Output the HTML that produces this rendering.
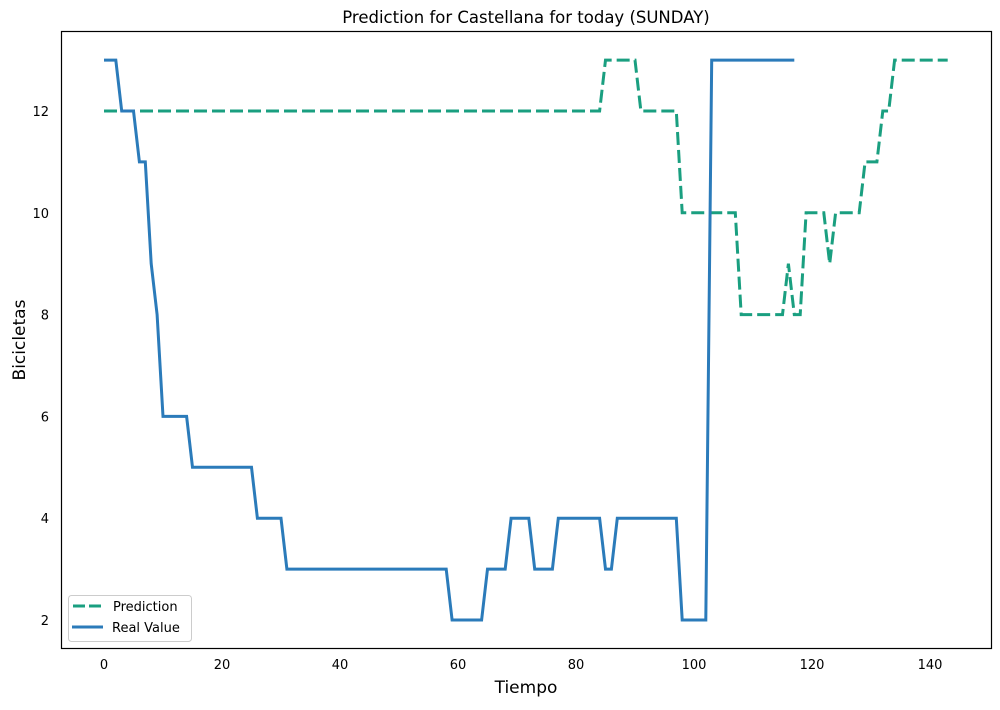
<!DOCTYPE html>
<html><head><meta charset="utf-8"><style>
body{margin:0;background:#fff;}
svg{font-family:"DejaVu Sans","Liberation Sans",sans-serif;}
</style></head><body>
<svg id="chart" width="1000" height="705">
<rect x="0" y="0" width="1000" height="705" fill="#fff"/>
<text x="526" y="23" text-anchor="middle" font-size="16.5">Prediction for Castellana for today (SUNDAY)</text>
<g id="plot"></g>
<rect x="61.5" y="31.5" width="930" height="617" fill="none" stroke="#000" stroke-width="1.2"/>
<text x="526" y="693" text-anchor="middle" font-size="17">Tiempo</text>
<text x="25" y="340" text-anchor="middle" font-size="17" transform="rotate(-90 25 340)">Bicicletas</text>
<g>
<rect x="68.5" y="595.5" width="123" height="46" rx="3" fill="#fff" stroke="#ccc"/>
<line x1="73" y1="606" x2="103" y2="606" stroke="#1a9f80" stroke-width="3" stroke-dasharray="12,4"/>
<text x="113" y="611" font-size="13">Prediction</text>
<line x1="72" y1="627" x2="103" y2="627" stroke="#2b7bba" stroke-width="3"/>
<text x="112" y="632" font-size="13">Real Value</text>
</g>
</svg>
<script>
const xTicks=[0,20,40,60,80,100,120,140];
const yTicks=[2,4,6,8,10,12];
const realValues=[13,13,13,12,12,12,11,11,9,8,6,6,6,6,6,5,5,5,5,5,5,5,5,5,5,5,4,4,4,4,4,3,3,3,3,3,3,3,3,3,3,3,3,3,3,3,3,3,3,3,3,3,3,3,3,3,3,3,3,2,2,2,2,2,2,3,3,3,3,4,4,4,4,3,3,3,3,4,4,4,4,4,4,4,4,3,3,4,4,4,4,4,4,4,4,4,4,4,2,2,2,2,2,13,13,13,13,13,13,13,13,13,13,13,13,13,13,13];
const predValues=[12,12,12,12,12,12,12,12,12,12,12,12,12,12,12,12,12,12,12,12,12,12,12,12,12,12,12,12,12,12,12,12,12,12,12,12,12,12,12,12,12,12,12,12,12,12,12,12,12,12,12,12,12,12,12,12,12,12,12,12,12,12,12,12,12,12,12,12,12,12,12,12,12,12,12,12,12,12,12,12,12,12,12,12,12,13,13,13,13,13,13,12,12,12,12,12,12,12,10,10,10,10,10,10,10,10,10,10,8,8,8,8,8,8,8,8,9,8,8,10,10,10,10,9,10,10,10,10,10,11,11,11,12,12,13,13,13,13,13,13,13,13,13,13];
const xs=v=>104+v*5.9;
const ys=v=>620-(v-2)*50.9;
const NS='http://www.w3.org/2000/svg';
const svg=document.getElementById('chart');
const plot=document.getElementById('plot');
xTicks.forEach(t=>{const e=document.createElementNS(NS,'text');
e.setAttribute('x',xs(t));e.setAttribute('y',669);e.setAttribute('text-anchor','middle');e.setAttribute('font-size','13');


e.textContent=t;svg.appendChild(e);});
yTicks.forEach(t=>{const e=document.createElementNS(NS,'text');
e.setAttribute('x',49);e.setAttribute('y',ys(t)+5);e.setAttribute('text-anchor','end');e.setAttribute('font-size','13');


e.textContent=t;svg.appendChild(e);});
function line(vals,color,dash,name){const p=document.createElementNS(NS,'polyline');
p.setAttribute('points',vals.map((v,i)=>xs(i)+','+ys(v)).join(' '));
p.setAttribute('fill','none');p.setAttribute('stroke',color);p.setAttribute('stroke-width','3');
if(dash)p.setAttribute('stroke-dasharray',dash);


plot.appendChild(p);}
line(predValues,'#1a9f80','13,5','prediction-line');
line(realValues,'#2b7bba',null,'real-value-line');
</script>
</body></html>
